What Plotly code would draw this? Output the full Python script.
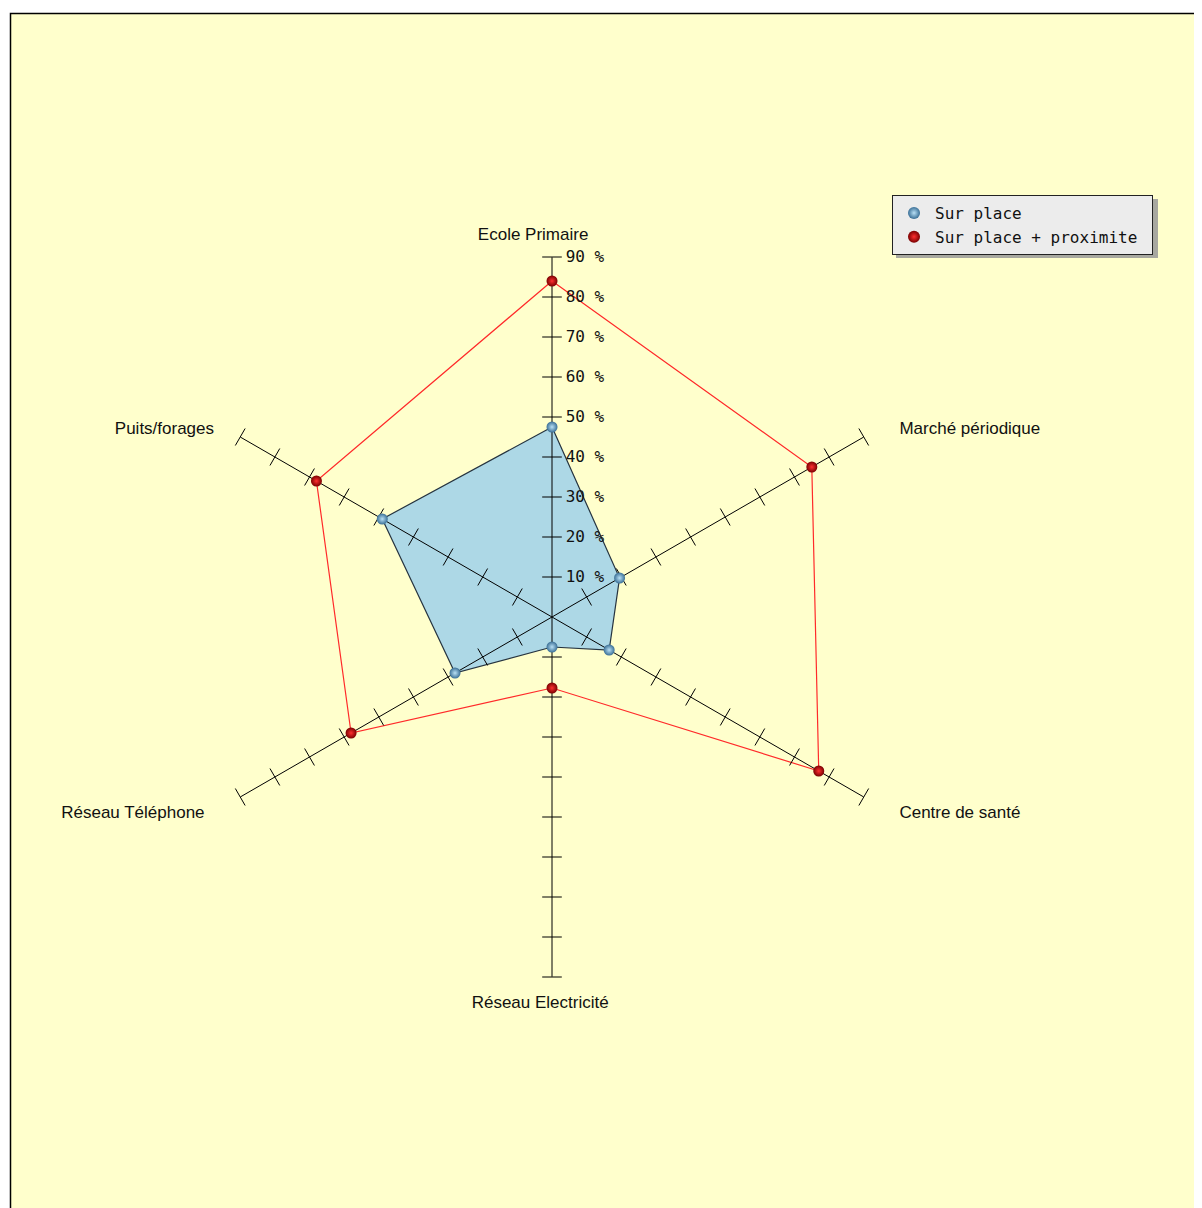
import plotly.graph_objects as go

categories = ["Ecole Primaire", "Marché périodique", "Centre de santé",
              "Réseau Electricité", "Réseau Téléphone", "Puits/forages"]
sur_place = [47.5, 19.5, 16.5, 7.5, 28, 49]
sur_place_prox = [84, 75, 77, 17.75, 58, 68]
tick_values = [10, 20, 30, 40, 50, 60, 70, 80, 90]
tick_labels = ["10 %", "20 %", "30 %", "40 %", "50 %", "60 %", "70 %", "80 %", "90 %"]
series_names = ["Sur place", "Sur place + proximite"]

W, H = 1202, 1208
OFF = 8  # page body margin
cx, cy, R = 552 - OFF, 617 - OFF, 360
MONO = "DejaVu Sans Mono"
SANS = "Liberation Sans"
nb = lambda n: "\u00a0" * n
# padding so labels sit where the original places them
label_text = [categories[0] + nb(8), nb(5) + categories[1], nb(5) + categories[2],
              categories[3] + nb(5), categories[4] + nb(5), categories[5] + nb(3)]

fig = go.Figure()

closed = lambda v: v + v[:1]
theta_closed = closed(categories)

# Blue filled polygon
fig.add_trace(go.Scatterpolar(
    r=closed(sur_place), theta=theta_closed, mode="lines", fill="toself",
    fillcolor="#add8e6", line=dict(color="#263440", width=1.2),
    showlegend=False, hoverinfo="skip"))
# Red outline
fig.add_trace(go.Scatterpolar(
    r=closed(sur_place_prox), theta=theta_closed, mode="lines",
    line=dict(color="#ff2a2a", width=1.2), showlegend=False, hoverinfo="skip"))

# Spokes
sr, st = [], []
for c in categories:
    sr += [0, tick_values[-1], None]
    st += [c, c, None]
fig.add_trace(go.Scatterpolar(r=sr, theta=st, mode="lines",
                              line=dict(color="#000", width=1),
                              showlegend=False, hoverinfo="skip", connectgaps=False))
# Tick marks on each spoke
for i, c in enumerate(categories):
    fig.add_trace(go.Scatterpolar(
        r=tick_values, theta=[c] * len(tick_values), mode="markers",
        marker=dict(symbol="line-ew", size=14, angle=i * 60,
                    line=dict(color="#000", width=1)),
        showlegend=False, hoverinfo="skip"))

# Markers (legend)
fig.add_trace(go.Scatterpolar(
    r=sur_place, theta=categories, mode="markers", name=series_names[0],
    marker=dict(size=11, color="#3a6f96",
                gradient=dict(type="radial", color="#b8e0f5"),
                line=dict(width=0))))
fig.add_trace(go.Scatterpolar(
    r=sur_place_prox, theta=categories, mode="markers", name=series_names[1] + nb(1),
    marker=dict(size=11, color="#7a0000",
                gradient=dict(type="radial", color="#ff3030"),
                line=dict(width=0))))

# frame
fig.add_shape(type="rect", xref="paper", yref="paper",
              x0=(10.5 - OFF) / W, x1=1.05, y0=-0.05, y1=1 - (13.5 - OFF) / H,
              fillcolor="#ffffcc", line=dict(color="#000", width=1.5), layer="below")
# legend shadow
fig.add_shape(type="rect", xref="paper", yref="paper",
              x0=(896 - OFF) / W, x1=(1158 - OFF) / W,
              y0=1 - (258 - OFF) / H, y1=1 - (199 - OFF) / H,
              fillcolor="#a8a8a0", line=dict(width=0), layer="below")

fig.update_layout(
    width=W, height=H, margin=dict(l=0, r=0, t=0, b=0),
    paper_bgcolor="white", plot_bgcolor="rgba(0,0,0,0)",
    polar=dict(
        domain=dict(x=[(cx - R) / W, (cx + R) / W], y=[(H - cy - R) / H, (H - cy + R) / H]),
        bgcolor="rgba(0,0,0,0)", gridshape="linear",
        angularaxis=dict(type="category", categoryarray=categories, rotation=90,
                         direction="clockwise", showgrid=False, showline=False,
                         tickmode="array", tickvals=categories, ticktext=label_text,
                         ticks="outside", ticklen=10, tickcolor="rgba(0,0,0,0)",
                         tickfont=dict(family=SANS, size=17, color="#111")),
        radialaxis=dict(range=[0, 90], angle=90, side="clockwise", showline=False,
                        showgrid=False, ticks="outside", ticklen=10,
                        tickcolor="rgba(0,0,0,0)", tickmode="array",
                        tickvals=tick_values, ticktext=tick_labels, tickangle=90,
                        tickfont=dict(family=MONO, size=16, color="#111")),
    ),
    legend=dict(x=(892 - OFF) / W, y=1 - (195 - OFF) / H, xanchor="left", yanchor="top",
                bgcolor="#ececec", bordercolor="#222", borderwidth=1,
                font=dict(family=MONO, size=16, color="#111"),
                itemwidth=32, itemsizing="constant", tracegroupgap=0),
)

fig.write_html("out.html")
